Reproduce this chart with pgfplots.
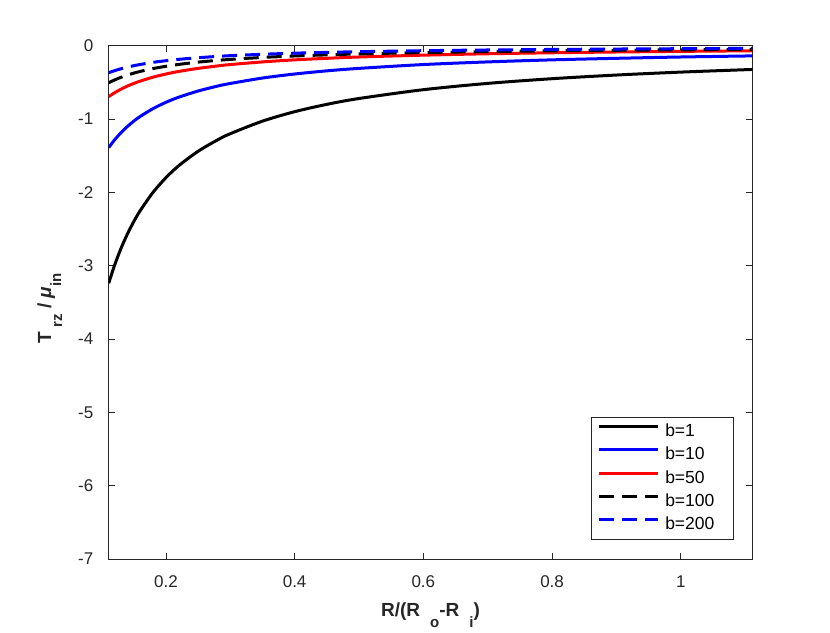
\documentclass[border=0pt]{standalone}
\usepackage{fontspec}
\setmainfont{Liberation Sans}
\usepackage{pgfplots}
\pgfplotsset{compat=1.18}
\definecolor{axgray}{rgb}{0.15,0.15,0.15}
\definecolor{mblue}{rgb}{0,0,1}
\definecolor{mred}{rgb}{1,0,0}
\begin{document}
\begin{tikzpicture}[x=1pt,y=1pt]
\useasboundingbox (-108.7,-73) rectangle (721.3,559);
\begin{axis}[
  scale only axis, width=643.6pt, height=513.3pt,
  at={(0,0)}, anchor=south west,
  xmin=0.1111, xmax=1.1111, ymin=-7, ymax=0,
  xtick={0.2,0.4,0.6,0.8,1}, xticklabels={0.2,0.4,0.6,0.8,1},
  ytick={-7,-6,-5,-4,-3,-2,-1,0}, yticklabels={-7,-6,-5,-4,-3,-2,-1,0},
  xtick pos=both, ytick pos=both,
  xticklabel pos=lower, yticklabel pos=left,
  tick align=inside, major tick length=6.5pt,
  axis line style={color=axgray, line width=0.8pt},
  every tick/.style={color=axgray, line width=0.8pt},
  tick label style={font=\fontsize{17}{20}\selectfont, color=axgray},
  xticklabel style={anchor=base, yshift=-28.5pt},
  yticklabel style={anchor=east, inner sep=0pt, xshift=-15.2pt},
  xlabel={\textbf{R/(R\hspace{10pt}\raisebox{-10.5pt}{\fontsize{15}{15}\selectfont o}-R\hspace{10pt}\raisebox{-10.5pt}{\fontsize{15}{15}\selectfont i})}},
  xlabel style={at={(axis description cs:0.5,0)}, anchor=base, yshift=-57.7pt, font=\fontsize{19}{22}\selectfont, color=axgray},
  ylabel={\textbf{T\hspace{4pt}\raisebox{-11pt}{\fontsize{15}{15}\selectfont rz} / \textit{μ}\raisebox{-10pt}{\fontsize{15}{15}\selectfont in}}},
  ylabel style={at={(axis description cs:0,0.5)}, anchor=base, yshift=57.5pt, xshift=-6pt, font=\fontsize{19}{22}\selectfont, color=axgray},
  legend style={at={(0.9705,0.037)}, anchor=south east, draw=axgray, line width=0.6pt,
    font=\fontsize{17.5}{20}\selectfont, inner xsep=6.6pt, inner ysep=6.85pt,
    row sep=8.4pt, column sep=5.6pt,
    nodes={inner sep=0pt, text height=12pt, text depth=3pt}},
  legend cell align=left,
  legend image code/.code={\draw[#1] (0pt,5.5pt) -- (59pt,5.5pt);},
]
\addplot[black, line width=3pt, smooth] coordinates {
(0.1111,-3.24) (0.12,-3.0) (0.13,-2.769) (0.14,-2.571) (0.15,-2.4) (0.16,-2.25)
(0.18,-2.0) (0.2,-1.8) (0.22,-1.636) (0.25,-1.44) (0.28,-1.286) (0.3,-1.2)
(0.35,-1.029) (0.4,-0.9) (0.45,-0.8) (0.5,-0.72) (0.6,-0.6) (0.7,-0.514)
(0.8,-0.45) (0.9,-0.4) (1.0,-0.36) (1.1111,-0.324)};
\addlegendentry{b=1}
\addplot[mblue, line width=3pt, smooth] coordinates {
(0.1111,-1.39) (0.12,-1.287) (0.13,-1.188) (0.14,-1.103) (0.15,-1.029) (0.16,-0.965)
(0.18,-0.858) (0.2,-0.772) (0.22,-0.702) (0.25,-0.618) (0.28,-0.551) (0.3,-0.515)
(0.35,-0.441) (0.4,-0.386) (0.45,-0.343) (0.5,-0.309) (0.6,-0.257) (0.7,-0.221)
(0.8,-0.193) (0.9,-0.172) (1.0,-0.154) (1.1111,-0.139)};
\addlegendentry{b=10}
\addplot[mred, line width=3pt, smooth] coordinates {
(0.1111,-0.695) (0.12,-0.643) (0.13,-0.594) (0.14,-0.551) (0.15,-0.515) (0.16,-0.483)
(0.18,-0.429) (0.2,-0.386) (0.22,-0.351) (0.25,-0.309) (0.28,-0.276) (0.3,-0.257)
(0.35,-0.221) (0.4,-0.193) (0.45,-0.172) (0.5,-0.154) (0.6,-0.129) (0.7,-0.110)
(0.8,-0.0965) (0.9,-0.0858) (1.0,-0.0772) (1.1111,-0.0695)};
\addlegendentry{b=50}
\addplot[black, line width=3pt, smooth, dash pattern=on 15pt off 8pt] coordinates {
(0.1111,-0.505) (0.12,-0.468) (0.13,-0.432) (0.14,-0.401) (0.15,-0.374) (0.16,-0.351)
(0.18,-0.312) (0.2,-0.281) (0.22,-0.255) (0.25,-0.224) (0.28,-0.200) (0.3,-0.187)
(0.35,-0.160) (0.4,-0.140) (0.45,-0.125) (0.5,-0.112) (0.6,-0.0935) (0.7,-0.0802)
(0.8,-0.0701) (0.9,-0.0623) (1.0,-0.0561) (1.1111,-0.0505)};
\addlegendentry{b=100}
\addplot[mblue, line width=3pt, smooth, dash pattern=on 15pt off 8pt] coordinates {
(0.1111,-0.368) (0.12,-0.341) (0.13,-0.315) (0.14,-0.292) (0.15,-0.273) (0.16,-0.256)
(0.18,-0.227) (0.2,-0.205) (0.22,-0.186) (0.25,-0.164) (0.28,-0.146) (0.3,-0.136)
(0.35,-0.117) (0.4,-0.102) (0.45,-0.0909) (0.5,-0.0818) (0.6,-0.0682) (0.7,-0.0584)
(0.8,-0.0511) (0.9,-0.0454) (1.0,-0.0409) (1.1111,-0.0368)};
\addlegendentry{b=200\hspace*{12pt}}
\end{axis}
\end{tikzpicture}
\end{document}
